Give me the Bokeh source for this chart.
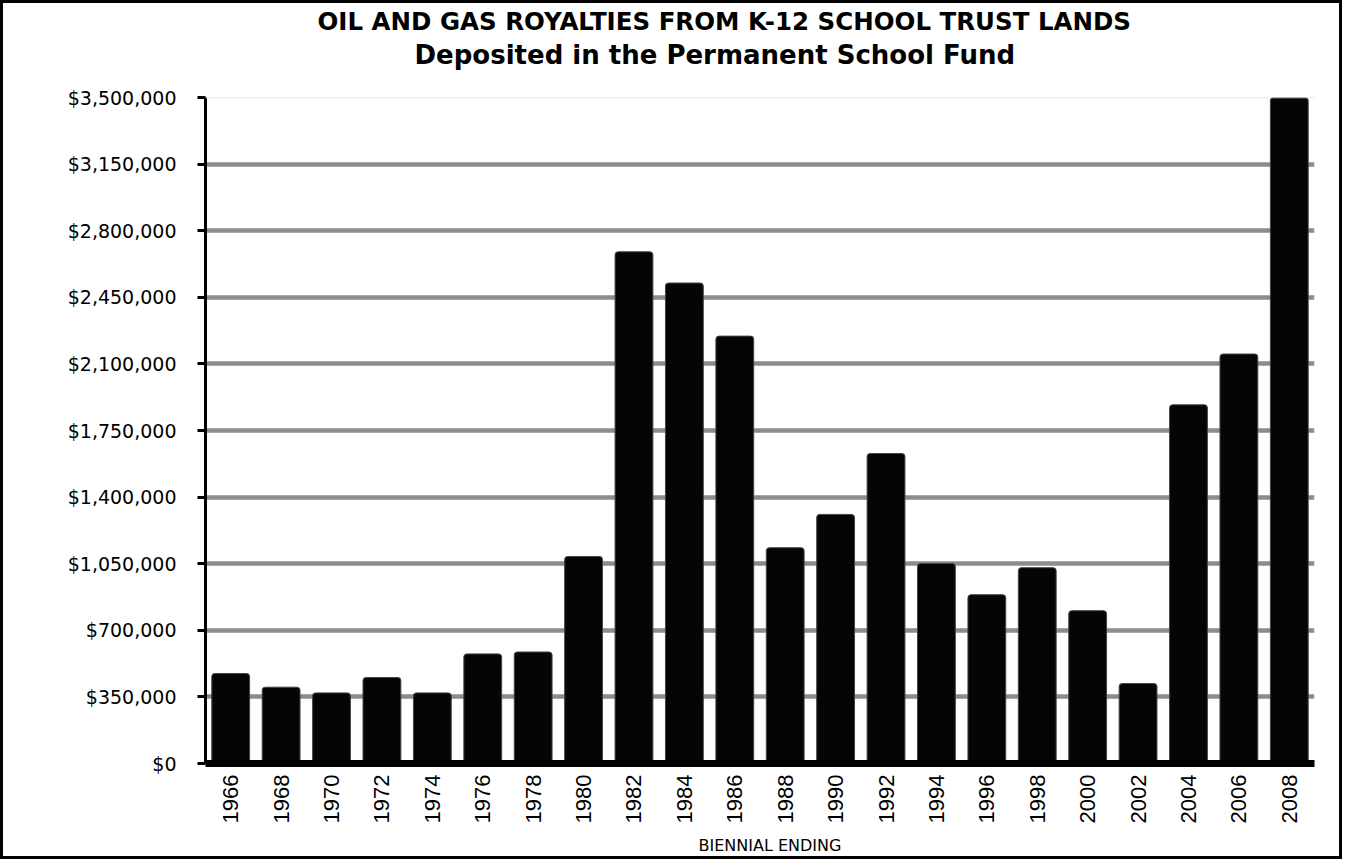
import math
from bokeh.plotting import figure
from bokeh.models import (ColumnDataSource, FactorRange, Range1d, FixedTicker,
                          NumeralTickFormatter, Span, Title)
from bokeh.embed import file_html
from bokeh.resources import INLINE

# ---- data ----
years = ["1966", "1968", "1970", "1972", "1974", "1976", "1978", "1980",
         "1982", "1984", "1986", "1988", "1990", "1992", "1994", "1996",
         "1998", "2000", "2002", "2004", "2006", "2008"]
royalties = [473000, 401000, 371000, 452000, 371000, 576000, 586000, 1088000,
             2689000, 2525000, 2246000, 1134000, 1309000, 1629000, 1051000, 887000,
             1029000, 803000, 420000, 1885000, 2152000, 3500000]
y_ticks = [0, 350000, 700000, 1050000, 1400000, 1750000, 2100000,
           2450000, 2800000, 3150000, 3500000]
title_line1 = "OIL AND GAS ROYALTIES FROM K-12 SCHOOL TRUST LANDS"
title_line2 = "Deposited in the Permanent School Fund"
x_label = "BIENNIAL ENDING"

src = ColumnDataSource(data=dict(year=years, value=royalties))

p = figure(width=1342, height=859, output_backend="svg", toolbar_location=None,
           x_range=FactorRange(*years, range_padding=0),
           y_range=Range1d(0, y_ticks[-1]),
           min_border_left=202, min_border_right=31,
           min_border_top=94, min_border_bottom=99)

p.outline_line_color = None
p.background_fill_color = "white"
p.border_fill_color = "white"
p.styles = {"border": "3px solid black"}

# grid
p.xgrid.grid_line_color = None
p.ygrid.ticker = FixedTicker(ticks=y_ticks[1:-1])
p.ygrid.grid_line_color = "#8c8c8c"
p.ygrid.grid_line_width = 4.5
p.add_layout(Span(location=y_ticks[-1], dimension="width",
                  line_color="#dedede", line_width=1.5))

# bars
p.vbar(x="year", top="value", width=0.75, bottom=0, source=src,
       fill_color="#050505", line_color="#444444", line_width=1,
       border_radius=3)

# y axis
ya = p.yaxis[0]
ya.ticker = FixedTicker(ticks=y_ticks)
ya.formatter = NumeralTickFormatter(format="$0,0")
ya.axis_line_color = "black"
ya.axis_line_width = 3
ya.major_tick_line_color = "black"
ya.major_tick_line_width = 3
ya.major_tick_out = 8
ya.major_tick_in = 0
ya.minor_tick_line_color = None
ya.major_label_standoff = 21
ya.major_label_text_font = "DejaVu Sans"
ya.major_label_text_font_size = "19px"
ya.major_label_text_color = "black"

# x axis
xa = p.xaxis[0]
xa.axis_line_color = "black"
xa.axis_line_width = 7
xa.major_tick_line_color = None
xa.minor_tick_line_color = None
xa.major_tick_out = 0
xa.major_tick_in = 0
xa.major_label_orientation = math.pi / 2
xa.major_label_standoff = 11
xa.major_label_text_font = "Liberation Sans"
xa.major_label_text_font_size = "22px"
xa.major_label_text_color = "black"

# x axis caption, placed below the tick labels
p.add_layout(Title(text=x_label, align="left", offset=493,
                   text_font="DejaVu Sans", text_font_size="16px",
                   text_font_style="normal", text_color="black",
                   standoff=15), "below")

# titles (first added sits nearest the frame)
p.add_layout(Title(text=" ", text_font_size="10px", standoff=13), "above")
p.add_layout(Title(text=title_line2, align="left", offset=209,
                   text_font="DejaVu Sans", text_font_size="26px",
                   text_font_style="bold", text_color="black",
                   standoff=4), "above")
p.add_layout(Title(text=title_line1, align="left", offset=112,
                   text_font="DejaVu Sans", text_font_size="24.5px",
                   text_font_style="bold", text_color="black",
                   standoff=0), "above")

open("out.html", "w").write(file_html(p, INLINE))
